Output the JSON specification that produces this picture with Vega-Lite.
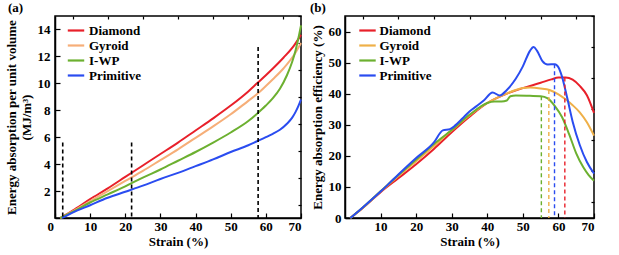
{
  "$schema": "https://vega.github.io/schema/vega-lite/v6.json",
  "padding": {"left": 4, "top": 1, "right": 5, "bottom": 5},
  "background": "white",
  "config": {
    "font": "Liberation Serif",
    "view": {"stroke": "black", "strokeWidth": 1.5},
    "axis": {"domainColor": "black", "domainWidth": 1.5, "tickColor": "black", "tickWidth": 1.2, "labelColor": "black", "titleColor": "black", "labelFont": "Liberation Serif", "titleFont": "Liberation Serif", "labelFontSize": 13, "titleFontSize": 13, "labelFontWeight": "bold", "titleFontWeight": "bold", "grid": false},
    "title": {"font": "Liberation Serif", "fontSize": 13, "fontWeight": "bold", "color": "black"},
    "legend": {"labelFont": "Liberation Serif", "labelFontSize": 13, "labelFontWeight": "bold", "labelColor": "black"}
  },
  "datasets": {
    "energy": [
      {"strain": 1.5, "value": 0, "series": "Diamond"},
      {"strain": 5, "value": 0.55, "series": "Diamond"},
      {"strain": 10, "value": 1.4, "series": "Diamond"},
      {"strain": 15, "value": 2.2, "series": "Diamond"},
      {"strain": 20, "value": 3.05, "series": "Diamond"},
      {"strain": 25, "value": 3.9, "series": "Diamond"},
      {"strain": 30, "value": 4.75, "series": "Diamond"},
      {"strain": 35, "value": 5.6, "series": "Diamond"},
      {"strain": 40, "value": 6.5, "series": "Diamond"},
      {"strain": 45, "value": 7.4, "series": "Diamond"},
      {"strain": 50, "value": 8.35, "series": "Diamond"},
      {"strain": 55, "value": 9.4, "series": "Diamond"},
      {"strain": 57.5, "value": 10.0, "series": "Diamond"},
      {"strain": 60, "value": 10.6, "series": "Diamond"},
      {"strain": 62, "value": 11.1, "series": "Diamond"},
      {"strain": 65, "value": 11.9, "series": "Diamond"},
      {"strain": 68, "value": 12.8, "series": "Diamond"},
      {"strain": 70, "value": 13.6, "series": "Diamond"},
      {"strain": 1.5, "value": 0, "series": "Gyroid"},
      {"strain": 5, "value": 0.5, "series": "Gyroid"},
      {"strain": 10, "value": 1.25, "series": "Gyroid"},
      {"strain": 15, "value": 2.0, "series": "Gyroid"},
      {"strain": 20, "value": 2.75, "series": "Gyroid"},
      {"strain": 25, "value": 3.5, "series": "Gyroid"},
      {"strain": 30, "value": 4.3, "series": "Gyroid"},
      {"strain": 35, "value": 5.1, "series": "Gyroid"},
      {"strain": 40, "value": 5.95, "series": "Gyroid"},
      {"strain": 45, "value": 6.8, "series": "Gyroid"},
      {"strain": 50, "value": 7.7, "series": "Gyroid"},
      {"strain": 55, "value": 8.7, "series": "Gyroid"},
      {"strain": 57.5, "value": 9.2, "series": "Gyroid"},
      {"strain": 60, "value": 9.8, "series": "Gyroid"},
      {"strain": 62, "value": 10.3, "series": "Gyroid"},
      {"strain": 65, "value": 11.1, "series": "Gyroid"},
      {"strain": 68, "value": 12.1, "series": "Gyroid"},
      {"strain": 70, "value": 13.0, "series": "Gyroid"},
      {"strain": 1.5, "value": 0, "series": "I-WP"},
      {"strain": 5, "value": 0.45, "series": "I-WP"},
      {"strain": 10, "value": 1.15, "series": "I-WP"},
      {"strain": 15, "value": 1.75, "series": "I-WP"},
      {"strain": 20, "value": 2.35, "series": "I-WP"},
      {"strain": 25, "value": 3.0, "series": "I-WP"},
      {"strain": 30, "value": 3.6, "series": "I-WP"},
      {"strain": 35, "value": 4.25, "series": "I-WP"},
      {"strain": 40, "value": 4.9, "series": "I-WP"},
      {"strain": 45, "value": 5.6, "series": "I-WP"},
      {"strain": 50, "value": 6.35, "series": "I-WP"},
      {"strain": 55, "value": 7.2, "series": "I-WP"},
      {"strain": 57.5, "value": 7.75, "series": "I-WP"},
      {"strain": 60, "value": 8.35, "series": "I-WP"},
      {"strain": 62, "value": 8.9, "series": "I-WP"},
      {"strain": 64, "value": 9.6, "series": "I-WP"},
      {"strain": 66, "value": 10.6, "series": "I-WP"},
      {"strain": 67.5, "value": 11.6, "series": "I-WP"},
      {"strain": 68.5, "value": 12.5, "series": "I-WP"},
      {"strain": 69.3, "value": 13.4, "series": "I-WP"},
      {"strain": 70, "value": 14.3, "series": "I-WP"},
      {"strain": 2, "value": 0, "series": "Primitive"},
      {"strain": 5, "value": 0.4, "series": "Primitive"},
      {"strain": 10, "value": 0.95, "series": "Primitive"},
      {"strain": 15, "value": 1.5, "series": "Primitive"},
      {"strain": 20, "value": 1.95, "series": "Primitive"},
      {"strain": 25, "value": 2.4, "series": "Primitive"},
      {"strain": 30, "value": 2.9, "series": "Primitive"},
      {"strain": 35, "value": 3.35, "series": "Primitive"},
      {"strain": 40, "value": 3.85, "series": "Primitive"},
      {"strain": 45, "value": 4.35, "series": "Primitive"},
      {"strain": 50, "value": 4.9, "series": "Primitive"},
      {"strain": 55, "value": 5.4, "series": "Primitive"},
      {"strain": 57.5, "value": 5.7, "series": "Primitive"},
      {"strain": 60, "value": 6.0, "series": "Primitive"},
      {"strain": 62, "value": 6.25, "series": "Primitive"},
      {"strain": 64, "value": 6.55, "series": "Primitive"},
      {"strain": 66, "value": 7.0, "series": "Primitive"},
      {"strain": 67.5, "value": 7.45, "series": "Primitive"},
      {"strain": 68.5, "value": 7.9, "series": "Primitive"},
      {"strain": 69.3, "value": 8.35, "series": "Primitive"},
      {"strain": 70, "value": 8.8, "series": "Primitive"}
    ],
    "efficiency": [
      {"strain": 1.5, "value": 0, "series": "Diamond"},
      {"strain": 5, "value": 3.2, "series": "Diamond"},
      {"strain": 10, "value": 8.3, "series": "Diamond"},
      {"strain": 15, "value": 12.8, "series": "Diamond"},
      {"strain": 20, "value": 17.3, "series": "Diamond"},
      {"strain": 25, "value": 22.2, "series": "Diamond"},
      {"strain": 30, "value": 27.6, "series": "Diamond"},
      {"strain": 35, "value": 32.6, "series": "Diamond"},
      {"strain": 40, "value": 37.0, "series": "Diamond"},
      {"strain": 45, "value": 39.8, "series": "Diamond"},
      {"strain": 50, "value": 41.8, "series": "Diamond"},
      {"strain": 55, "value": 43.5, "series": "Diamond"},
      {"strain": 58, "value": 44.6, "series": "Diamond"},
      {"strain": 60, "value": 45.2, "series": "Diamond"},
      {"strain": 62, "value": 45.2, "series": "Diamond"},
      {"strain": 64, "value": 44.5, "series": "Diamond"},
      {"strain": 66, "value": 42.5, "series": "Diamond"},
      {"strain": 68, "value": 39.5, "series": "Diamond"},
      {"strain": 70, "value": 33.8, "series": "Diamond"},
      {"strain": 1.5, "value": 0, "series": "Gyroid"},
      {"strain": 5, "value": 3.3, "series": "Gyroid"},
      {"strain": 10, "value": 8.5, "series": "Gyroid"},
      {"strain": 15, "value": 13.5, "series": "Gyroid"},
      {"strain": 20, "value": 18.3, "series": "Gyroid"},
      {"strain": 25, "value": 23.2, "series": "Gyroid"},
      {"strain": 30, "value": 28.2, "series": "Gyroid"},
      {"strain": 35, "value": 33.0, "series": "Gyroid"},
      {"strain": 40, "value": 37.0, "series": "Gyroid"},
      {"strain": 45, "value": 39.8, "series": "Gyroid"},
      {"strain": 48, "value": 41.2, "series": "Gyroid"},
      {"strain": 50, "value": 41.8, "series": "Gyroid"},
      {"strain": 52, "value": 42.0, "series": "Gyroid"},
      {"strain": 55, "value": 41.7, "series": "Gyroid"},
      {"strain": 57.5, "value": 41.2, "series": "Gyroid"},
      {"strain": 60, "value": 39.8, "series": "Gyroid"},
      {"strain": 62, "value": 38.2, "series": "Gyroid"},
      {"strain": 64, "value": 36.3, "series": "Gyroid"},
      {"strain": 66, "value": 34.0, "series": "Gyroid"},
      {"strain": 68, "value": 30.8, "series": "Gyroid"},
      {"strain": 70, "value": 26.5, "series": "Gyroid"},
      {"strain": 1.5, "value": 0, "series": "I-WP"},
      {"strain": 5, "value": 3.4, "series": "I-WP"},
      {"strain": 10, "value": 8.6, "series": "I-WP"},
      {"strain": 15, "value": 13.8, "series": "I-WP"},
      {"strain": 20, "value": 18.8, "series": "I-WP"},
      {"strain": 25, "value": 23.8, "series": "I-WP"},
      {"strain": 30, "value": 28.3, "series": "I-WP"},
      {"strain": 35, "value": 33.2, "series": "I-WP"},
      {"strain": 40, "value": 37.0, "series": "I-WP"},
      {"strain": 42, "value": 37.5, "series": "I-WP"},
      {"strain": 44, "value": 37.5, "series": "I-WP"},
      {"strain": 45.5, "value": 37.8, "series": "I-WP"},
      {"strain": 46.5, "value": 39.2, "series": "I-WP"},
      {"strain": 48, "value": 39.4, "series": "I-WP"},
      {"strain": 52, "value": 39.3, "series": "I-WP"},
      {"strain": 55, "value": 39.2, "series": "I-WP"},
      {"strain": 57, "value": 38.5, "series": "I-WP"},
      {"strain": 59, "value": 36.0, "series": "I-WP"},
      {"strain": 61, "value": 32.5, "series": "I-WP"},
      {"strain": 63, "value": 27.0, "series": "I-WP"},
      {"strain": 65, "value": 20.8, "series": "I-WP"},
      {"strain": 67, "value": 16.3, "series": "I-WP"},
      {"strain": 68.5, "value": 13.8, "series": "I-WP"},
      {"strain": 70, "value": 12.0, "series": "I-WP"},
      {"strain": 1.5, "value": 0, "series": "Primitive"},
      {"strain": 5, "value": 3.4, "series": "Primitive"},
      {"strain": 10, "value": 8.5, "series": "Primitive"},
      {"strain": 15, "value": 14.0, "series": "Primitive"},
      {"strain": 20, "value": 19.3, "series": "Primitive"},
      {"strain": 25, "value": 24.3, "series": "Primitive"},
      {"strain": 27.5, "value": 28.2, "series": "Primitive"},
      {"strain": 29.5, "value": 28.6, "series": "Primitive"},
      {"strain": 31, "value": 29.8, "series": "Primitive"},
      {"strain": 33, "value": 32.0, "series": "Primitive"},
      {"strain": 35, "value": 34.3, "series": "Primitive"},
      {"strain": 37, "value": 36.0, "series": "Primitive"},
      {"strain": 39, "value": 37.8, "series": "Primitive"},
      {"strain": 41.5, "value": 40.4, "series": "Primitive"},
      {"strain": 43.5, "value": 39.4, "series": "Primitive"},
      {"strain": 45.5, "value": 41.2, "series": "Primitive"},
      {"strain": 48, "value": 44.8, "series": "Primitive"},
      {"strain": 50, "value": 48.8, "series": "Primitive"},
      {"strain": 52, "value": 53.8, "series": "Primitive"},
      {"strain": 53, "value": 55.0, "series": "Primitive"},
      {"strain": 54, "value": 53.8, "series": "Primitive"},
      {"strain": 55.5, "value": 50.5, "series": "Primitive"},
      {"strain": 57, "value": 49.4, "series": "Primitive"},
      {"strain": 59, "value": 49.5, "series": "Primitive"},
      {"strain": 60, "value": 48.5, "series": "Primitive"},
      {"strain": 61, "value": 45.5, "series": "Primitive"},
      {"strain": 62.5, "value": 38.5, "series": "Primitive"},
      {"strain": 64, "value": 31.0, "series": "Primitive"},
      {"strain": 66, "value": 23.5, "series": "Primitive"},
      {"strain": 68, "value": 18.0, "series": "Primitive"},
      {"strain": 70, "value": 14.3, "series": "Primitive"}
    ],
    "dashA": [
      {"strain": 2.2, "top": 5.6},
      {"strain": 21.8, "top": 5.6},
      {"strain": 57.8, "top": 12.7}
    ],
    "dashB": [
      {"strain": 61.8, "top": 45.2, "series": "Diamond"},
      {"strain": 57.3, "top": 41.2, "series": "Gyroid"},
      {"strain": 55.2, "top": 39.2, "series": "I-WP"},
      {"strain": 58.9, "top": 49.5, "series": "Primitive"}
    ]
  },
  "hconcat": [
    {
      "width": 246,
      "height": 202,
      "title": {"text": "(a)", "anchor": "start", "frame": "group", "dx": -47, "offset": 0},
      "resolve": {"axis": {"x": "independent", "y": "independent"}},
      "layer": [
        {
          "data": {"name": "energy"},
          "mark": {"type": "line", "interpolate": "monotone", "strokeWidth": 2},
          "encoding": {
            "x": {"field": "strain", "type": "quantitative", "scale": {"domain": [0, 70], "nice": false},
              "axis": {"title": "Strain (%)", "values": [0, 10, 20, 30, 40, 50, 60, 70], "tickSize": -5, "labelPadding": 7, "titlePadding": 2, "labelOffset": {"condition": {"test": "datum.value === 0", "value": -8}, "value": 0}}},
            "y": {"field": "value", "type": "quantitative", "scale": {"domain": [0, 15], "nice": false},
              "axis": {"title": ["Energy absorption per unit volume", "(MJ/m\u00b3)"], "values": [2, 4, 6, 8, 10, 12, 14], "tickSize": -5, "labelPadding": 10, "titlePadding": 4}},
            "color": {"field": "series", "type": "nominal",
              "scale": {"domain": ["Diamond", "Gyroid", "I-WP", "Primitive"], "range": ["#e8202a", "#f6ae78", "#6cb030", "#2a4cf0"]},
              "legend": {"title": null, "orient": "none", "legendX": 14, "legendY": 7.5, "padding": 0, "symbolType": "M-1.5,0H1.5", "symbolSize": 120, "symbolStrokeWidth": 2.2, "rowPadding": 1, "labelOffset": 6}}
          }
        },
        {
          "data": {"name": "dashA"},
          "mark": {"type": "rule", "color": "black", "strokeWidth": 1.6, "strokeDash": [4, 3]},
          "encoding": {
            "x": {"field": "strain", "type": "quantitative",
              "axis": {"title": null, "labels": false, "domain": false, "offset": 0, "values": [5, 15, 25, 35, 45, 55, 65], "tickSize": -3}},
            "y": {"field": "top", "type": "quantitative",
              "axis": {"title": null, "labels": false, "domain": false, "offset": 0, "values": [1, 3, 5, 7, 9, 11, 13, 15], "tickSize": -3}},
            "y2": {"datum": 0}
          }
        }
      ]
    },
    {
      "width": 249,
      "height": 202,
      "title": {"text": "(b)", "anchor": "start", "frame": "group", "dx": -35, "offset": 0},
      "resolve": {"axis": {"x": "independent", "y": "independent"}},
      "layer": [
        {
          "data": {"name": "efficiency"},
          "mark": {"type": "line", "interpolate": "monotone", "strokeWidth": 2},
          "encoding": {
            "x": {"field": "strain", "type": "quantitative", "scale": {"domain": [0, 70], "nice": false},
              "axis": {"title": "Strain (%)", "values": [10, 20, 30, 40, 50, 60, 70], "tickSize": -5, "labelPadding": 7, "titlePadding": 2}},
            "y": {"field": "value", "type": "quantitative", "scale": {"domain": [0, 65], "nice": false},
              "axis": {"title": "Energy absorption efficiency (%)", "values": [0, 10, 20, 30, 40, 50, 60], "tickSize": -5, "labelPadding": 9, "titlePadding": 4}},
            "color": {"field": "series", "type": "nominal",
              "scale": {"domain": ["Diamond", "Gyroid", "I-WP", "Primitive"], "range": ["#e8202a", "#efb048", "#6cb030", "#2a4cf0"]},
              "legend": {"title": null, "orient": "none", "legendX": 15.5, "legendY": 7.5, "padding": 0, "symbolType": "M-1.5,0H1.5", "symbolSize": 120, "symbolStrokeWidth": 2.2, "rowPadding": 1, "labelOffset": 5}}
          }
        },
        {
          "data": {"name": "dashB"},
          "mark": {"type": "rule", "strokeWidth": 1.4, "strokeDash": [4, 3]},
          "encoding": {
            "x": {"field": "strain", "type": "quantitative",
              "axis": {"title": null, "labels": false, "domain": false, "offset": 0, "values": [5, 15, 25, 35, 45, 55, 65], "tickSize": -3}},
            "y": {"field": "top", "type": "quantitative",
              "axis": {"title": null, "labels": false, "domain": false, "offset": 0, "values": [5, 15, 25, 35, 45, 55, 65], "tickSize": -3}},
            "y2": {"datum": 0},
            "color": {"field": "series", "type": "nominal", "legend": null}
          }
        }
      ]
    }
  ],
  "spacing": 3,
  "resolve": {"scale": {"color": "independent"}, "legend": {"color": "independent"}}
}
